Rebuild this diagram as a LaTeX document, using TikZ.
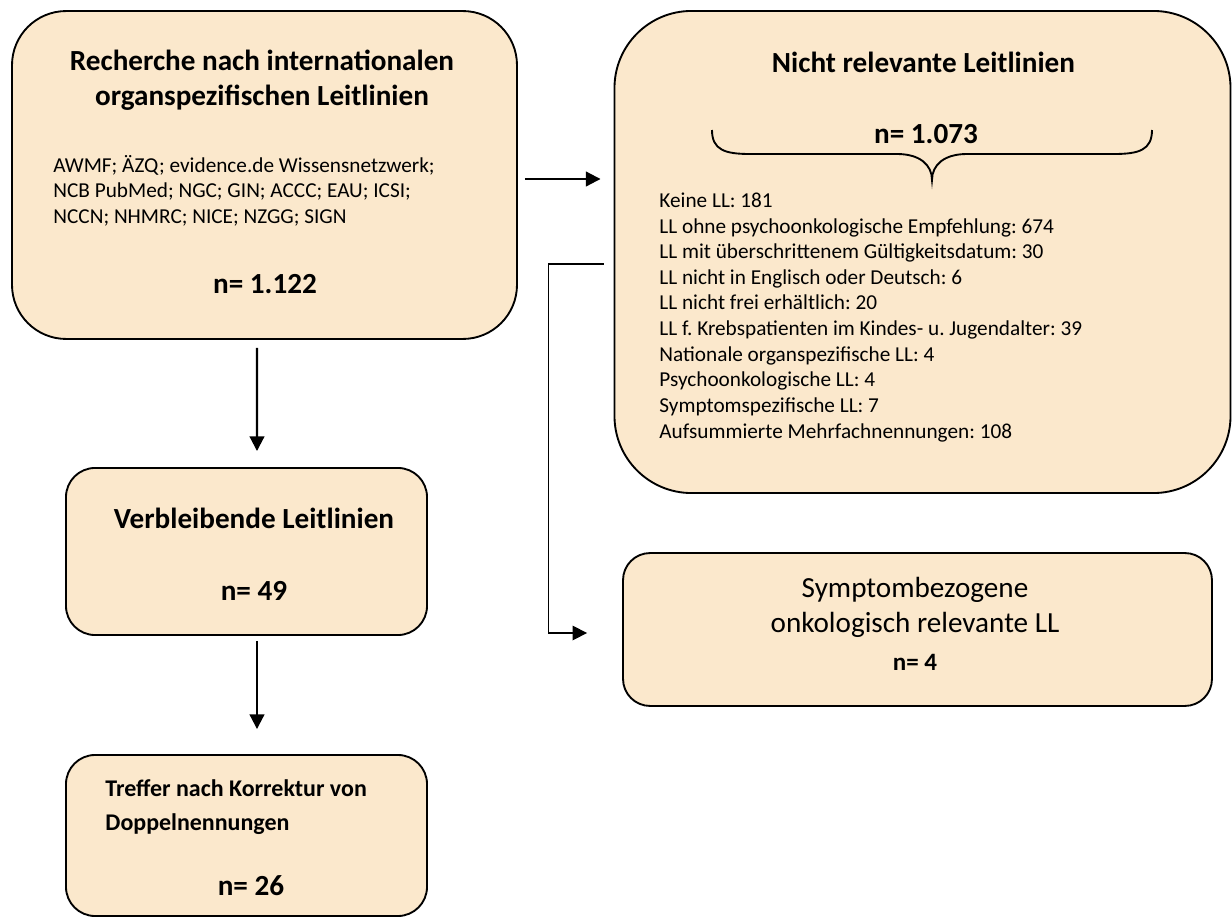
\documentclass[tikz,border=0pt]{standalone}
\usepackage{fontspec}
\setmainfont{Carlito}
\frenchspacing
\usetikzlibrary{positioning,arrows.meta}
\definecolor{Beige}{RGB}{251,232,204}
\tikzstyle{CajaLL}=[rectangle, draw=black, fill=Beige, line width=0.9pt]
\tikzstyle{TituloLL}=[font=\fontsize{14}{16.8}\selectfont\bfseries, align=center, anchor=base, inner sep=0pt]
\tikzstyle{TextoLL}=[font=\fontsize{10.2}{12.2}\selectfont, align=left, anchor=base west, inner sep=0pt]
\tikzstyle{FlechaLL}=[-{Triangle[length=7pt, width=7pt]}, line width=1pt]

\begin{document}
\begin{tikzpicture}[x=0.48pt, y=-0.48pt]
	\useasboundingbox (0,0) rectangle (1232,918);
	%Cajas
	\node[CajaLL, rounded corners=26pt, minimum width=242.4pt, minimum height=157.4pt]	(recherche)	at (264.5,175)	{};
	\node[CajaLL, rounded corners=37pt, minimum width=295.7pt, minimum height=231.4pt]	(nicht)		at (922.5,252)	{};
	\node[CajaLL, rounded corners=13pt, minimum width=282.7pt, minimum height=73.4pt]	(symptom)	at (917.5,629.5)	{};
	\node[CajaLL, rounded corners=14pt, minimum width=173.3pt, minimum height=80.2pt]	(verbl)		at (246.5,551.5)	{};
	\node[CajaLL, rounded corners=14pt, minimum width=173.3pt, minimum height=77.3pt]	(treffer)	at (246.5,835.5)	{};

	%Textos (la base es la de la ultima linea)
	\node[TituloLL]	(recherche_tit)	at (262,105)	{Recherche nach internationalen\\organspezifischen Leitlinien};
	\node[TextoLL]	(recherche_db)	at (53,223)	{AWMF; ÄZQ; evidence.de Wissensnetzwerk;\\NCB PubMed; NGC; GIN; ACCC; EAU; ICSI;\\NCCN; NHMRC; NICE; NZGG; SIGN};
	\node[TituloLL]	(recherche_n)	at (265,293)	{n= 1.122};

	\node[TituloLL]	(nicht_tit)	at (923.5,72)	{Nicht relevante Leitlinien};
	\node[TituloLL]	(nicht_n)	at (926,143)	{n= 1.073};
	\node[TextoLL, font=\fontsize{10.2}{12.3}\selectfont]	(nicht_lista)	at (659,438)	{Keine LL: 181\\LL ohne psychoonkologische Empfehlung: 674\\LL mit überschrittenem Gültigkeitsdatum: 30\\LL nicht in Englisch oder Deutsch: 6\\LL nicht frei erhältlich: 20\\LL f. Krebspatienten im Kindes- u. Jugendalter: 39\\Nationale organspezifische LL: 4\\Psychoonkologische LL: 4\\Symptomspezifische LL: 7\\Aufsummierte Mehrfachnennungen: 108};

	\node[TituloLL, font=\fontsize{14}{16.8}\selectfont]	(symptom_tit)	at (915,632)	{Symptombezogene\\onkologisch relevante LL};
	\node[TituloLL, font=\fontsize{12}{14}\selectfont\bfseries]	(symptom_n)	at (915,670)	{n= 4};

	\node[TituloLL]	(verbl_tit)	at (254,528)	{Verbleibende Leitlinien};
	\node[TituloLL]	(verbl_n)	at (254,600)	{n= 49};

	\node[TextoLL, font=\fontsize{11.5}{16}\selectfont\bfseries]	(treffer_tit)	at (105,830)	{Treffer nach Korrektur von\\Doppelnennungen};
	\node[TituloLL]	(treffer_n)	at (251,895)	{n= 26};

	%Llave
	\draw[line width=0.9pt] (712,130) .. controls (712,150) and (725,154) .. (750,154) -- (897,154) .. controls (920,154) and (932,165) .. (932,180) .. controls (932,165) and (944,154) .. (967,154) -- (1114,154) .. controls (1139,154) and (1152,150) .. (1152,130);

	%Lineas
	\draw[FlechaLL] ([shift={(7,4)}]recherche.east) -- ([shift={(-13,4)}]recherche.east -| nicht.west);
	\draw[FlechaLL] ([shift={(-7.5,8)}]recherche.south) -- ([shift={(10.5,-16)}]verbl.north);
	\draw[FlechaLL] ([shift={(10.5,5)}]verbl.south) -- ([shift={(10.5,-25)}]treffer.north);
	\draw[FlechaLL, line width=0.75pt] ([shift={(-10,12)}]nicht.west) -- ++(-55,0) |- ([shift={(-35,3.5)}]symptom.west);
\end{tikzpicture}
\end{document}
